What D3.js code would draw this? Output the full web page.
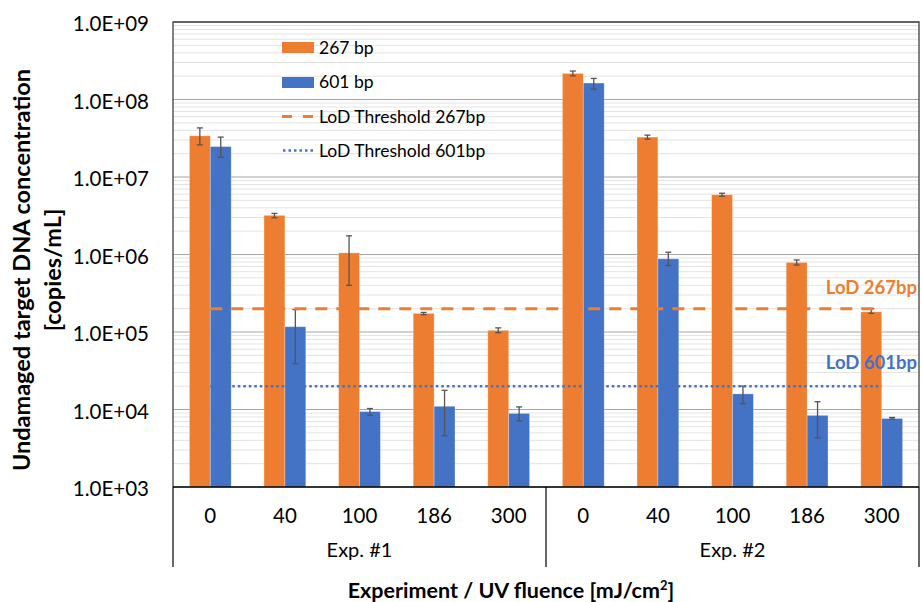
<!DOCTYPE html>
<html lang="en">
<head>
<meta charset="utf-8">
<title>UV fluence chart</title>
<script src="https://cdn.jsdelivr.net/npm/d3@7"></script>
<style>
  body { margin: 0; background: #fff; }
  text { font-family: Lato, "Open Sans", sans-serif; fill: #000; }
</style>
</head>
<body>
<script>
// categories
var doses = ["0", "40", "100", "186", "300", "0", "40", "100", "186", "300"];
var experiments = ["Exp. #1", "Exp. #2"];
var seriesNames = ["267 bp", "601 bp"];

// series values (copies/mL) and error bar ranges [low, high]
var bp267 = [3.4e7, 3.2e6, 1.05e6, 1.74e5, 1.05e5, 2.17e8, 3.27e7, 5.9e6, 7.9e5, 1.82e5];
var err267 = [[2.6e7, 4.3e7], [2.98e6, 3.39e6], [4.0e5, 1.74e6], [1.67e5, 1.79e5], [9.8e4, 1.13e5],
              [2.02e8, 2.33e8], [3.08e7, 3.47e7], [5.65e6, 6.17e6], [7.3e5, 8.5e5], [1.74e5, 2.0e5]];
var bp601 = [2.47e7, 1.17e5, 9.4e3, 1.1e4, 8.9e3, 1.63e8, 8.8e5, 1.59e4, 8.4e3, 7.65e3];
var err601 = [[1.8e7, 3.27e7], [3.9e4, 1.95e5], [8.4e3, 1.03e4], [4.6e3, 1.77e4], [7.1e3, 1.08e4],
              [1.36e8, 1.87e8], [7.2e5, 1.07e6], [1.19e4, 2.0e4], [4.3e3, 1.26e4], [7.5e3, 7.9e3]];

// limit of detection thresholds
var lod267 = 2e5;
var lod601 = 2e4;

// y ticks (decades)
var yTicks = [1e3, 1e4, 1e5, 1e6, 1e7, 1e8, 1e9];

var w = 921, h = 602;
var pL = 173, pR = 919, pT = 22, pB = 487;
var orange = "#ED7D31", blue = "#4472C4";

var svg = d3.select("body").append("svg")
  .attr("width", w).attr("height", h);

var x = d3.scaleBand()
  .domain(d3.range(doses.length))
  .range([pL, pR])
  .paddingInner(0.44)
  .paddingOuter(0.22);

var y = d3.scaleLog().domain([1e3, 1e9]).range([pB, pT]);

// minor gridlines
var minor = [];
for (var e = 3; e < 9; e++) {
  for (var m = 2; m < 10; m++) minor.push(m * Math.pow(10, e));
}
svg.append("g").selectAll("line").data(minor).enter().append("line")
  .attr("x1", pL).attr("x2", pR)
  .attr("y1", function(d) { return y(d); })
  .attr("y2", function(d) { return y(d); })
  .style("stroke", "#e3e3e3").style("stroke-width", 1);

// major gridlines
svg.append("g").selectAll("line").data(yTicks).enter().append("line")
  .attr("x1", pL).attr("x2", pR)
  .attr("y1", function(d) { return y(d); })
  .attr("y2", function(d) { return y(d); })
  .style("stroke", "#a6a6a6").style("stroke-width", 1.2);

// y axis labels
var yAxis = d3.axisLeft(y).tickValues(yTicks).tickSize(0).tickPadding(24)
  .tickFormat(function(d) {
    var ex = Math.round(Math.log10(d));
    return "1.0E+" + (ex < 10 ? "0" : "") + ex;
  });
svg.append("g").attr("transform", "translate(" + pL + ",2)").call(yAxis)
  .call(function(g) { g.select(".domain").remove(); })
  .selectAll("text").style("font-size", "20.5px").style("font-family", "Lato, sans-serif").attr("fill", "#000");

// bars
var bw = x.bandwidth() / 2;
function drawBars(vals, errs, color, offset) {
  var g = svg.append("g");
  g.selectAll("rect").data(vals).enter().append("rect")
    .attr("x", function(d, i) { return x(i) + offset; })
    .attr("y", function(d) { return y(d); })
    .attr("width", bw)
    .attr("height", function(d) { return pB - y(d); })
    .style("fill", color)
    .style("stroke", "#fff").style("stroke-opacity", 0.35).style("stroke-width", 0.8);
  var eg = svg.append("g").style("stroke", "#555").style("stroke-width", 1.3);
  errs.forEach(function(r, i) {
    var cx = x(i) + offset + bw / 2;
    eg.append("line").attr("x1", cx).attr("x2", cx).attr("y1", y(r[0])).attr("y2", y(r[1]));
    eg.append("line").attr("x1", cx - 3).attr("x2", cx + 3).attr("y1", y(r[0])).attr("y2", y(r[0]));
    eg.append("line").attr("x1", cx - 3).attr("x2", cx + 3).attr("y1", y(r[1])).attr("y2", y(r[1]));
  });
}
drawBars(bp267, err267, orange, 0);
drawBars(bp601, err601, blue, bw);

// LoD lines, from first to last category centre
var x0 = x(0) + x.bandwidth() / 2, x1 = x(doses.length - 1) + x.bandwidth() / 2;
svg.append("line").attr("x1", x0).attr("x2", x1).attr("y1", y(lod267)).attr("y2", y(lod267))
  .style("stroke", orange).style("stroke-width", 3).style("stroke-dasharray", "12,9");
svg.append("line").attr("x1", x0).attr("x2", x1).attr("y1", y(lod601)).attr("y2", y(lod601))
  .style("stroke", blue).style("stroke-width", 2.5).style("stroke-dasharray", "2.5,3").style("stroke-linecap", "butt");

svg.append("text").attr("x", 917).attr("y", 294).attr("text-anchor", "end")
  .style("font-size", "18.5px").style("font-weight", "bold").style("fill", orange).text("LoD 267bp");
svg.append("text").attr("x", 917).attr("y", 369).attr("text-anchor", "end")
  .style("font-size", "18.5px").style("font-weight", "bold").style("fill", blue).text("LoD 601bp");

// plot border
svg.append("path")
  .attr("d", "M" + pL + "," + pB + "V" + pT + "H" + pR + "V" + pB)
  .style("fill", "none").style("stroke", "#404040").style("stroke-width", 1.3);

// x axis: baseline and group separators
svg.append("line").attr("x1", pL).attr("x2", pR).attr("y1", pB).attr("y2", pB)
  .style("stroke", "#000").style("stroke-width", 1.3);
var mid = (x(4) + x.bandwidth() + x(5)) / 2;
[pL, mid, pR].forEach(function(sx) {
  svg.append("line").attr("x1", sx).attr("x2", sx).attr("y1", pB).attr("y2", 567)
    .style("stroke", "#000").style("stroke-width", 1.2);
});

var xAxis = d3.axisBottom(x).tickSize(0).tickPadding(21)
  .tickFormat(function(i) { return doses[i]; });
svg.append("g").attr("transform", "translate(0," + pB + ")").call(xAxis)
  .call(function(g) { g.select(".domain").remove(); })
  .selectAll("text").style("font-size", "20.5px").style("font-family", "Lato, sans-serif").attr("fill", "#000");

experiments.forEach(function(name, k) {
  var a = k === 0 ? pL : mid, b = k === 0 ? mid : pR;
  svg.append("text").attr("x", (a + b) / 2).attr("y", 557).attr("text-anchor", "middle")
    .style("font-size", "20px").text(name);
});

// axis titles
svg.append("text").attr("x", 511).attr("y", 598).attr("text-anchor", "middle")
  .style("font-size", "21.5px").style("font-weight", "bold")
  .text("Experiment / UV fluence [mJ/cm")
  .append("tspan").attr("dy", -8).style("font-size", "13px").text("2")
  .select(function() { return this.parentNode; })
  .append("tspan").attr("dy", 8).text("]");

var yt = svg.append("text").attr("transform", "translate(30,270) rotate(-90)")
  .attr("text-anchor", "middle").style("font-size", "23.5px").style("font-weight", "bold");
yt.append("tspan").attr("x", 0).attr("y", 0).text("Undamaged target DNA concentration");
yt.append("tspan").attr("x", 0).attr("y", 31).text("[copies/mL]");

// legend
var leg = svg.append("g").attr("transform", "translate(282,0)");
leg.append("rect").attr("x", 0).attr("y", 42).attr("width", 32).attr("height", 11).style("fill", orange);
leg.append("rect").attr("x", 0).attr("y", 77).attr("width", 32).attr("height", 11).style("fill", blue);
leg.append("line").attr("x1", 0).attr("x2", 32).attr("y1", 116.5).attr("y2", 116.5)
  .style("stroke", orange).style("stroke-width", 3).style("stroke-dasharray", "10,11");
leg.append("line").attr("x1", 1).attr("x2", 32).attr("y1", 150.5).attr("y2", 150.5)
  .style("stroke", blue).style("stroke-width", 2.5).style("stroke-dasharray", "2.5,3");
var legLabels = [seriesNames[0], seriesNames[1], "LoD Threshold 267bp", "LoD Threshold 601bp"];
var legY = [48, 82, 117, 151];
legLabels.forEach(function(t, i) {
  leg.append("text").attr("x", 37).attr("y", legY[i]).attr("dy", "0.35em")
    .style("font-size", "17.5px").text(t);
});
</script>
</body>
</html>
